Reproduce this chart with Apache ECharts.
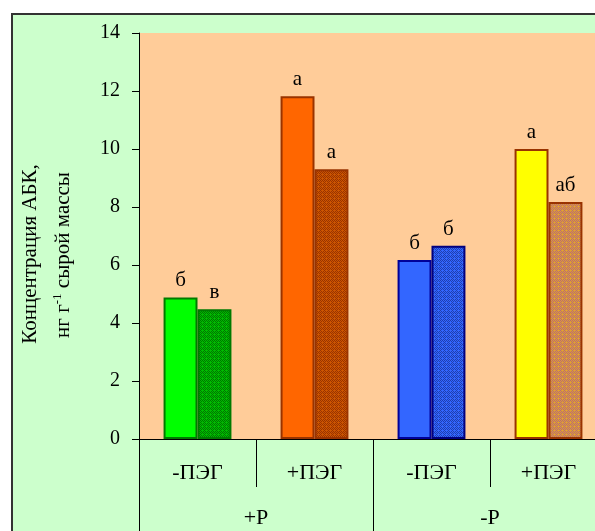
<!DOCTYPE html>
<html><head><meta charset="utf-8">
<script src="https://cdn.jsdelivr.net/npm/echarts@6/dist/echarts.min.js"></script>
<style>html,body{margin:0;padding:0;background:#fff}#c{width:595px;height:531px}</style>
</head><body><div id="c"></div>
<script>
const categories = ['-ПЭГ', '+ПЭГ', '-ПЭГ', '+ПЭГ'];
const groups = ['+Р', '-Р'];
const solidValues = [4.88, 11.82, 6.17, 10.0];
const hatchedValues = [4.47, 9.30, 6.66, 8.17];
const solidLetters = ['б', 'а', 'б', 'а'];
const hatchedLetters = ['в', 'а', 'б', 'аб'];
const yTicks = [0, 2, 4, 6, 8, 10, 12, 14];

const solidFill = ['#00ff00', '#ff6600', '#3366ff', '#ffff00'];
const solidBorder = ['#007a00', '#993300', '#000099', '#993300'];
const hatchA = ['#00bb00', '#cc5500', '#3366ff', '#e0a030'];
const hatchB = ['#007700', '#993300', '#1f3fb0', '#b86a78'];
const hatchBorder = ['#007a00', '#993300', '#000080', '#993300'];

function makePattern(a, b) {
  const c = document.createElement('canvas');
  c.width = 4; c.height = 4;
  const ctx = c.getContext('2d');
  ctx.fillStyle = a; ctx.fillRect(0, 0, 4, 4);
  ctx.fillStyle = b;
  for (let y = 0; y < 4; y++) for (let x = 0; x < 4; x++) {
    if ((x + y) % 2 === 0 && !(x === 2 && y === 2)) ctx.fillRect(x, y, 1, 1);
  }
  return { image: c, repeat: 'repeat' };
}

const serif = '"Liberation Serif", "DejaVu Serif", serif';
const chart = echarts.init(document.getElementById('c'), null, { renderer: 'canvas' });

const labelStyle = { show: true, position: 'top', distance: 6, color: '#000', fontFamily: serif, fontSize: 21 };

chart.setOption({
  backgroundColor: '#ffffff',
  animation: false,
  graphic: [
    { type: 'rect', z: -100, silent: true, shape: { x: 12, y: 14, width: 700, height: 700 },
      style: { fill: '#ccffcc', stroke: '#333333', lineWidth: 2 } },
    { type: 'text', z: 10, x: 30, y: 254, rotation: Math.PI / 2,
      style: { text: 'Концентрация АБК,', font: '21px ' + serif, fill: '#000', align: 'center', verticalAlign: 'middle' } },
    { type: 'text', z: 10, x: 63, y: 255, rotation: Math.PI / 2,
      style: {
        text: '{a|нг г}{s|-1}{a| сырой массы}', align: 'center', verticalAlign: 'middle',
        rich: {
          a: { fontFamily: serif, fontSize: 21, color: '#000' },
          s: { fontFamily: serif, fontSize: 13, color: '#000', padding: [0, 0, 11, 0] }
        }
      } }
  ],
  grid: { left: 139, top: 33, width: 468, bottom: 92, show: true, backgroundColor: '#ffcc99', borderWidth: 0,
          containLabel: false, outerBoundsMode: 'none' },
  xAxis: [
    { type: 'category', data: categories, position: 'bottom',
      axisLine: { show: true, lineStyle: { color: '#000', width: 1 } },
      axisTick: { show: true, interval: 0, length: 48, lineStyle: { color: '#000' } },
      axisLabel: { color: '#000', fontFamily: serif, fontSize: 22, margin: 23 } },
    { type: 'category', data: groups, position: 'bottom',
      axisLine: { show: false },
      axisTick: { show: true, interval: 0, length: 92, lineStyle: { color: '#000' } },
      axisLabel: { color: '#000', fontFamily: serif, fontSize: 22, margin: 68 } }
  ],
  yAxis: {
    type: 'value', min: yTicks[0], max: yTicks[yTicks.length - 1], interval: yTicks[1] - yTicks[0],
    axisLine: { show: true, lineStyle: { color: '#000' } },
    axisTick: { show: true, length: 7, lineStyle: { color: '#000' } },
    splitLine: { show: false },
    axisLabel: { color: '#000', fontFamily: serif, fontSize: 20, margin: 19 }
  },
  series: [
    { type: 'bar', barGap: '0%', barCategoryGap: '42%',
      data: solidValues.map((v, i) => ({ value: v,
        itemStyle: { color: solidFill[i], borderColor: solidBorder[i], borderWidth: 2 },
        label: Object.assign({}, labelStyle, { formatter: solidLetters[i] }) })) },
    { type: 'bar', barGap: '0%', barCategoryGap: '42%',
      data: hatchedValues.map((v, i) => ({ value: v,
        itemStyle: { color: makePattern(hatchA[i], hatchB[i]), borderColor: hatchBorder[i], borderWidth: 2 },
        label: Object.assign({}, labelStyle, { formatter: hatchedLetters[i] }) })) }
  ]
});
</script></body></html>
